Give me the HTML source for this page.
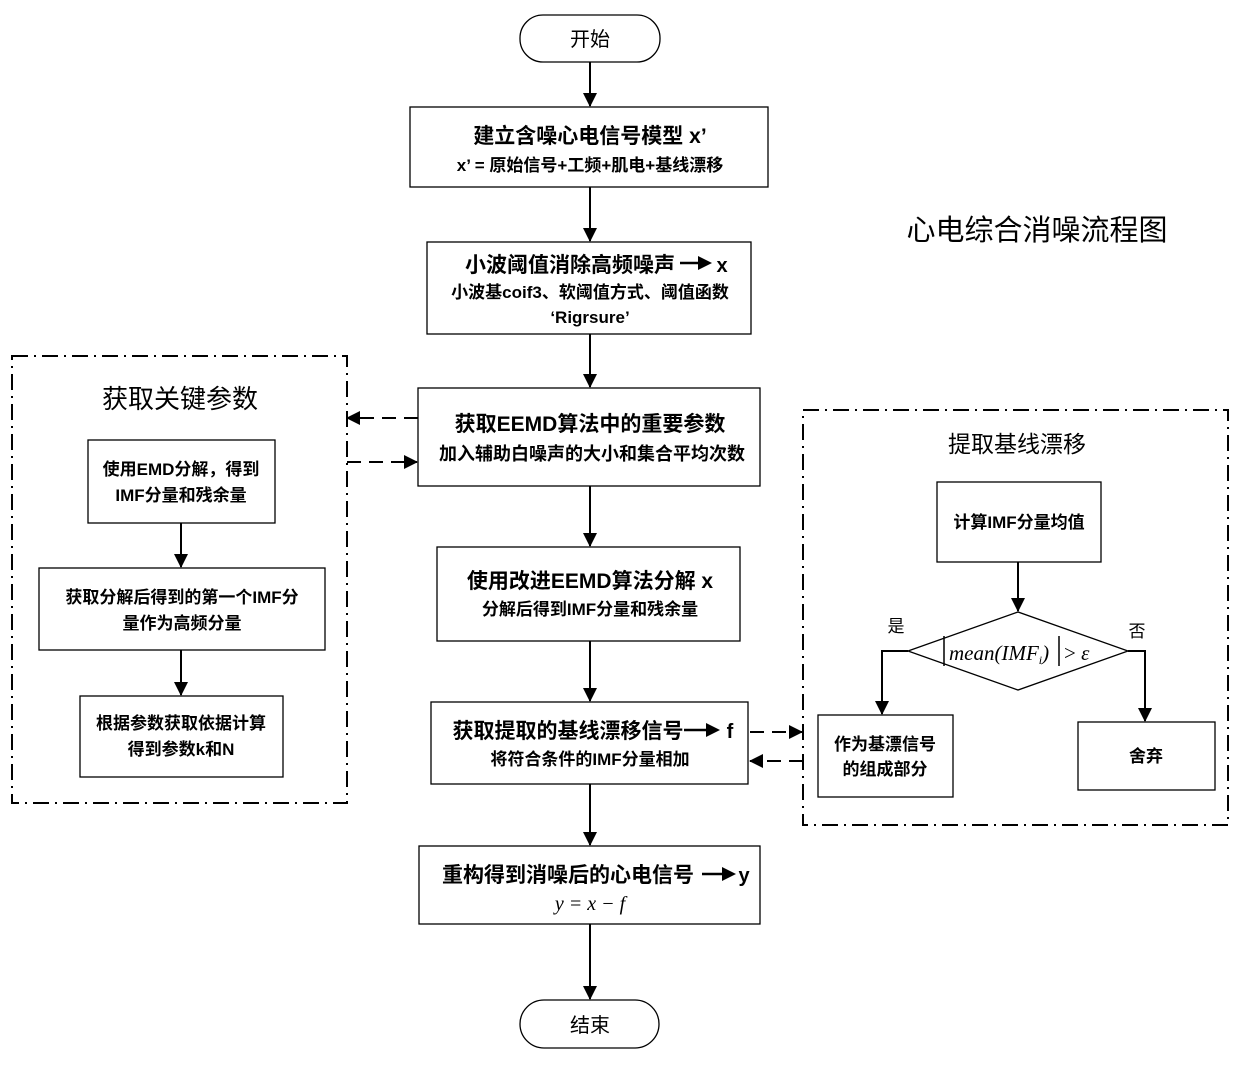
<!DOCTYPE html>
<html><head><meta charset="utf-8"><style>
html,body{margin:0;padding:0;background:#fff}
svg text{font-family:"Liberation Sans","Noto Sans CJK SC",sans-serif;fill:#000}
svg text.m{font-family:"Liberation Serif","Noto Serif CJK SC",serif}
</style></head><body>
<svg width="1240" height="1063" viewBox="0 0 1240 1063" xmlns="http://www.w3.org/2000/svg">
<defs>
<marker id="b" markerWidth="14" markerHeight="14" refX="13" refY="7" orient="auto" markerUnits="userSpaceOnUse" viewBox="0 0 14 14"><path d="M0,0 L14,7 L0,14 z" fill="#000"/></marker>
</defs>
<g fill="none" stroke="#000" stroke-width="1.3">
<rect x="520" y="15" width="140" height="47" rx="23"/>
<rect x="410" y="107" width="358" height="80"/>
<rect x="427" y="242" width="324" height="92"/>
<rect x="418" y="388" width="342" height="98"/>
<rect x="437" y="547" width="303" height="94"/>
<rect x="431" y="702" width="317" height="82"/>
<rect x="419" y="846" width="341" height="78"/>
<rect x="520" y="1000" width="139" height="48" rx="24"/>
<rect x="88" y="440" width="187" height="83"/>
<rect x="39" y="568" width="286" height="82"/>
<rect x="80" y="696" width="203" height="81"/>
<rect x="937" y="482" width="164" height="80"/>
<path d="M908,651 L1018,612 L1128,651 L1018,690 Z"/>
<rect x="818" y="715" width="135" height="82"/>
<rect x="1078" y="722" width="137" height="68"/>
</g>
<g fill="none" stroke="#000" stroke-width="2" stroke-dasharray="16,6,2,6">
<rect x="12" y="356" width="335" height="447"/>
<rect x="803" y="410" width="425" height="415"/>
</g>
<g stroke="#000" stroke-width="2" fill="none" marker-end="url(#b)">
<line x1="590" y1="62" x2="590" y2="106"/>
<line x1="590" y1="187" x2="590" y2="241"/>
<line x1="590" y1="334" x2="590" y2="387"/>
<line x1="590" y1="486" x2="590" y2="546"/>
<line x1="590" y1="641" x2="590" y2="701"/>
<line x1="590" y1="784" x2="590" y2="845"/>
<line x1="590" y1="924" x2="590" y2="999"/>
<line x1="181" y1="523" x2="181" y2="567"/>
<line x1="181" y1="650" x2="181" y2="695"/>
<line x1="1018" y1="562" x2="1018" y2="611"/>
<polyline points="908,651 882,651 882,714"/>
<polyline points="1128,651 1145,651 1145,721"/>
</g>
<g stroke="#000" stroke-width="2" fill="none" stroke-dasharray="14,8" marker-end="url(#b)">
<line x1="418" y1="418" x2="347" y2="418"/>
<line x1="347" y1="462" x2="417" y2="462"/>
<line x1="750" y1="732" x2="802" y2="732"/>
<line x1="803" y1="761" x2="750" y2="761"/>
</g>
<g stroke="#000" stroke-width="2.5" fill="none">
<line x1="680" y1="263" x2="700" y2="263"/>
<line x1="684" y1="730" x2="708" y2="730"/>
<line x1="702" y1="874" x2="724" y2="874"/>
</g>
<g fill="#000">
<path d="M698,256 L712,263 L698,270 Z"/>
<path d="M706,723 L720,730 L706,737 Z"/>
<path d="M722,867 L736,874 L722,881 Z"/>
</g>
<g text-anchor="middle">
<text x="590" y="46" font-size="20">开始</text>
<text x="590" y="143" font-size="21" font-weight="bold">建立含噪心电信号模型 x’</text>
<text x="590" y="171" font-size="17" font-weight="bold">x’ = 原始信号+工频+肌电+基线漂移</text>
<text x="570" y="272" font-size="21" font-weight="bold">小波阈值消除高频噪声</text>
<text x="722" y="272" font-size="20" font-weight="bold">x</text>
<text x="568" y="738" font-size="21" font-weight="bold">获取提取的基线漂移信号</text>
<text x="730" y="738" font-size="20" font-weight="bold">f</text>
<text x="568" y="882" font-size="21" font-weight="bold">重构得到消噪后的心电信号</text>
<text x="744" y="882" font-size="20" font-weight="bold">y</text>
<text x="590" y="298" font-size="17" font-weight="bold">小波基coif3、软阈值方式、阈值函数</text>
<text x="590" y="323" font-size="17" font-weight="bold">‘Rigrsure’</text>
<text x="590" y="431" font-size="21" font-weight="bold">获取EEMD算法中的重要参数</text>
<text x="592" y="460" font-size="18" font-weight="bold">加入辅助白噪声的大小和集合平均次数</text>
<text x="590" y="588" font-size="21" font-weight="bold">使用改进EEMD算法分解 x</text>
<text x="590" y="615" font-size="17" font-weight="bold">分解后得到IMF分量和残余量</text>
<text x="590" y="765" font-size="17" font-weight="bold">将符合条件的IMF分量相加</text>
<text x="590" y="910" font-size="20" font-style="italic" class="m">y = x − f</text>
<text x="590" y="1032" font-size="20">结束</text>
<text x="1037" y="240" font-size="29">心电综合消噪流程图</text>
<text x="180" y="408" font-size="26">获取关键参数</text>
<text x="181" y="475" font-size="17" font-weight="bold">使用EMD分解，得到</text>
<text x="181" y="501" font-size="17" font-weight="bold">IMF分量和残余量</text>
<text x="182" y="603" font-size="17" font-weight="bold">获取分解后得到的第一个IMF分</text>
<text x="182" y="629" font-size="17" font-weight="bold">量作为高频分量</text>
<text x="181" y="729" font-size="17" font-weight="bold">根据参数获取依据计算</text>
<text x="181" y="755" font-size="17" font-weight="bold">得到参数k和N</text>
<text x="1017" y="452" font-size="23">提取基线漂移</text>
<text x="1019" y="528" font-size="17" font-weight="bold">计算IMF分量均值</text>
<text x="896" y="632" font-size="17">是</text>
<text x="1137" y="637" font-size="17">否</text>
<text x="885" y="750" font-size="17" font-weight="bold">作为基漂信号</text>
<text x="885" y="775" font-size="17" font-weight="bold">的组成部分</text>
<text x="1146" y="762" font-size="17" font-weight="bold">舍弃</text>
</g>
<text x="949" y="660" font-size="21" font-style="italic" class="m">mean(IMF<tspan font-size="12" dy="4">i</tspan><tspan dy="-4">)</tspan></text>
<text x="1064" y="660" font-size="21" class="m">&gt; <tspan font-style="italic">ε</tspan></text>
<line x1="944" y1="636" x2="944" y2="666" stroke="#000" stroke-width="1.5"/>
<line x1="1059" y1="636" x2="1059" y2="666" stroke="#000" stroke-width="1.5"/>
</svg>
</body></html>
